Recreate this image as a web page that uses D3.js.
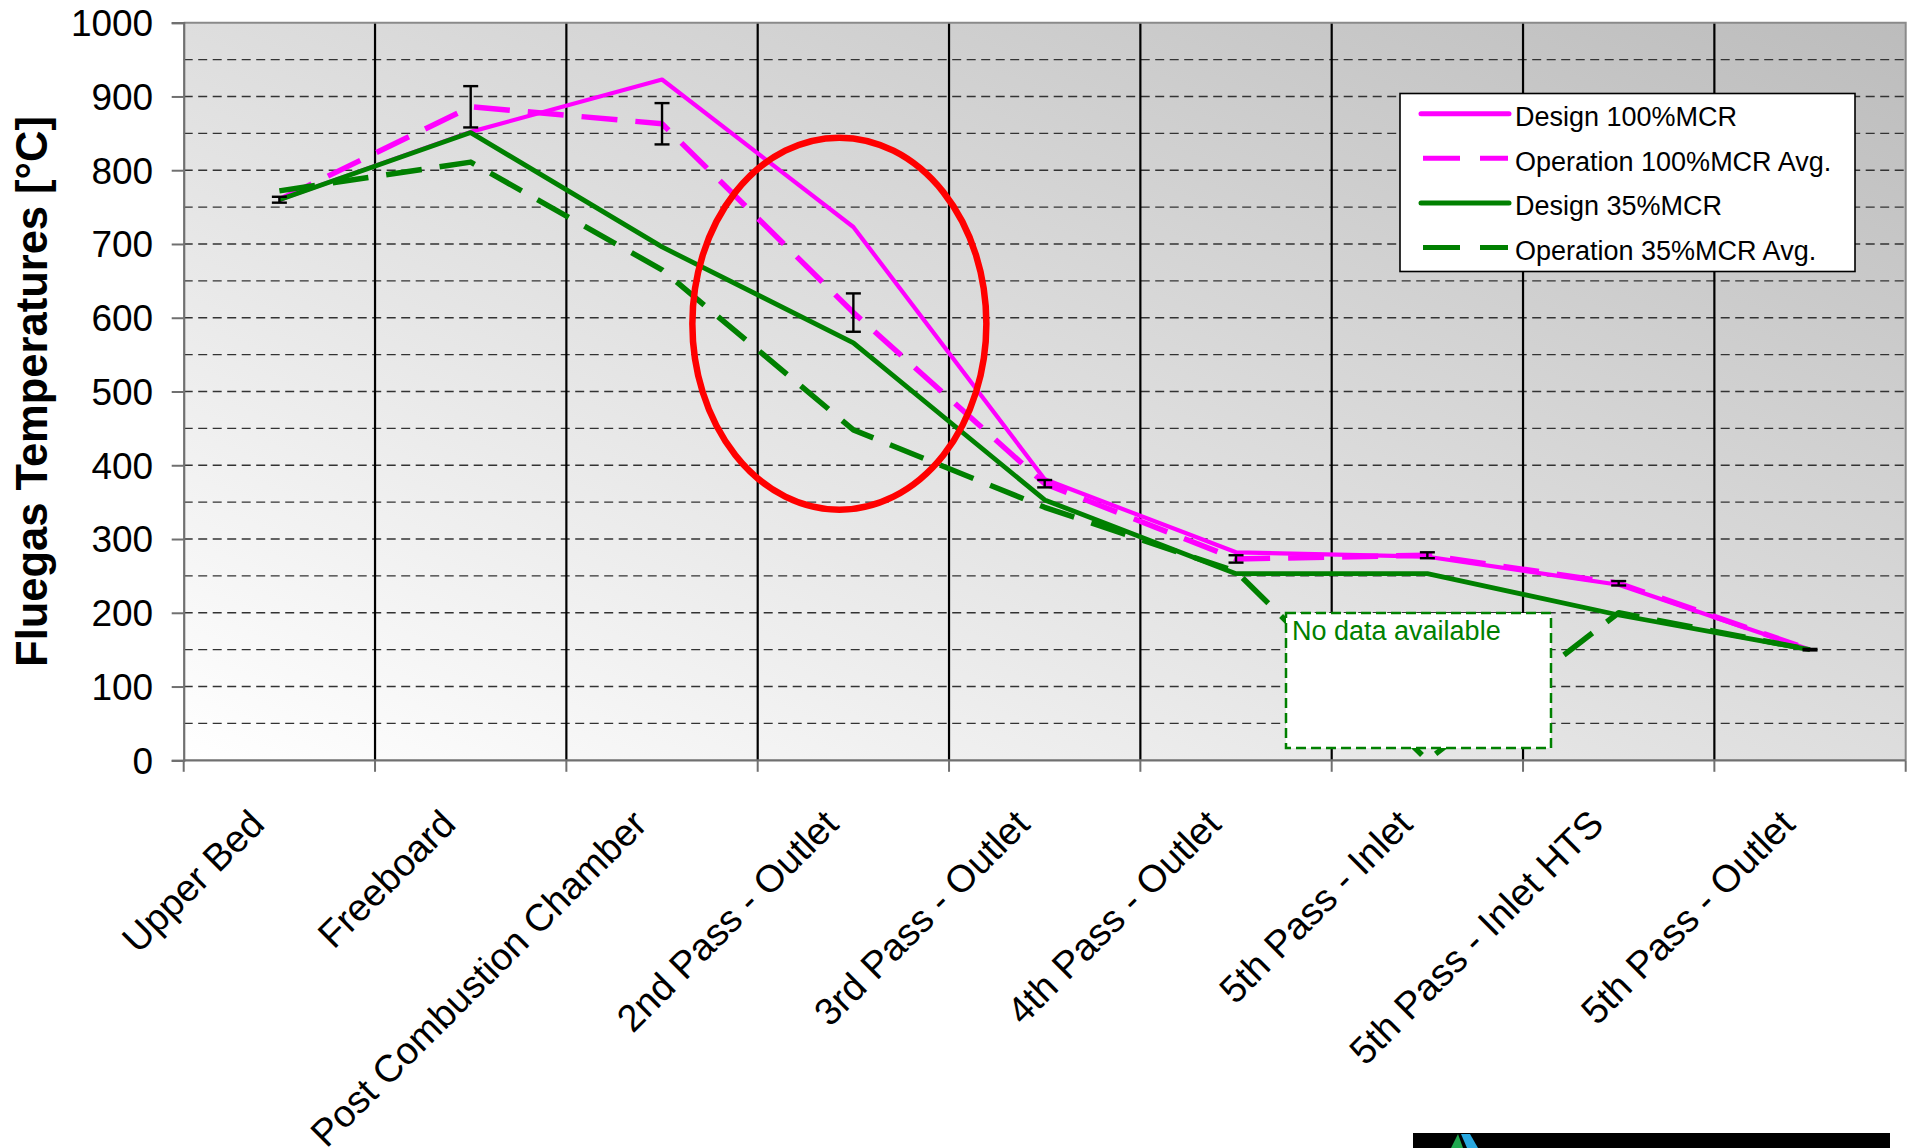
<!DOCTYPE html>
<html>
<head>
<meta charset="utf-8">
<script src="https://cdn.jsdelivr.net/npm/d3@7"></script>
<style>
  body { margin: 0; background: #fff; }
  svg { display: block; }
  text { font-family: "Liberation Sans", Arial, Helvetica, sans-serif; }
</style>
</head>
<body>
<svg id="chart" width="1909" height="1148"></svg>
<script>
// Flue gas temperature profile along the boiler path
const categories = [
  "Upper Bed", "Freeboard", "Post Combustion Chamber", "2nd Pass - Outlet",
  "3rd Pass - Outlet", "4th Pass - Outlet", "5th Pass - Inlet",
  "5th Pass - Inlet HTS", "5th Pass - Outlet"
];
const design100    = [760, 852, 923, 723, 381, 282, 276, 238, 150];
const operation100 = [760, 886, 863, 607, 375, 273, 278, 240, 150];
const operation100Err = [4, 28, 28, 26, 5, 5, 4, 3, 1];
const design35     = [760, 851, 696, 566, 353, 253, 253, 197, 150];
const operation35  = [772, 811, 665, 448, 343, 256, 0, 200, 150];
const seriesNames = ["Design 100%MCR", "Operation 100%MCR Avg.", "Design 35%MCR", "Operation 35%MCR Avg."];
const yTicks = [0, 100, 200, 300, 400, 500, 600, 700, 800, 900, 1000];
const yTitle = "Fluegas Temperatures [°C]";
const noDataText = "No data available";

const svg = d3.select("#chart");
const plot = { left: 183.7, top: 22.7, right: 1905.7, bottom: 760.3 };

const x = d3.scaleBand().domain(categories).range([plot.left, plot.right]);
const cx = c => x(c) + x.bandwidth() / 2;
const y = d3.scaleLinear().domain([0, 1000]).range([plot.bottom, plot.top]);

const MAGENTA = "#ff00ff", GREEN = "#008000";

// background gradient (light bottom-left to grey top-right)
const defs = svg.append("defs");
const grad = defs.append("linearGradient").attr("id", "plotBg")
  .attr("x1", 0).attr("y1", 1).attr("x2", 1).attr("y2", 0);
grad.append("stop").attr("offset", 0).attr("stop-color", "#ffffff");
grad.append("stop").attr("offset", 1).attr("stop-color", "#bcbcbc");

svg.append("rect")
  .attr("x", plot.left).attr("y", plot.top)
  .attr("width", plot.right - plot.left).attr("height", plot.bottom - plot.top)
  .attr("fill", "url(#plotBg)");

// dashed horizontal gridlines every 50
svg.append("g").selectAll("line")
  .data(d3.range(50, 1000, 50))
  .join("line")
  .attr("x1", plot.left).attr("x2", plot.right)
  .attr("y1", d => y(d)).attr("y2", d => y(d))
  .attr("stroke", "#333").attr("stroke-width", 1.4)
  .attr("stroke-dasharray", "9,5.5");

// solid vertical separators between categories
svg.append("g").selectAll("line")
  .data(categories.slice(1))
  .join("line")
  .attr("x1", d => x(d)).attr("x2", d => x(d))
  .attr("y1", plot.top).attr("y2", plot.bottom)
  .attr("stroke", "#000").attr("stroke-width", 2.2);

// plot frame: top and right edges
svg.append("path")
  .attr("d", `M${plot.left},${plot.top}H${plot.right}V${plot.bottom}`)
  .attr("fill", "none").attr("stroke", "#8a8a8a").attr("stroke-width", 2);

// series lines
const line = d3.line().x((d, i) => cx(categories[i])).y(d => y(d));
const series = [
  { values: design100, color: MAGENTA, width: 4.2, dash: null },
  { values: operation100, color: MAGENTA, width: 5.5, dash: "36,18" },
  { values: design35, color: GREEN, width: 4.8, dash: null },
  { values: operation35, color: GREEN, width: 5.5, dash: "36,18" }
];
svg.append("g").selectAll("path")
  .data(series)
  .join("path")
  .attr("d", d => line(d.values))
  .attr("fill", "none")
  .attr("stroke", d => d.color)
  .attr("stroke-width", d => d.width)
  .attr("stroke-linejoin", "round")
  .attr("stroke-dasharray", d => d.dash);

// error bars on the 100%MCR operating averages
const eb = svg.append("g").attr("stroke", "#000").attr("stroke-width", 2.4);
operation100.forEach((v, i) => {
  const px = cx(categories[i]);
  const e = operation100Err[i];
  eb.append("line").attr("x1", px).attr("x2", px).attr("y1", y(v - e)).attr("y2", y(v + e));
  eb.append("line").attr("x1", px - 7.5).attr("x2", px + 7.5).attr("y1", y(v - e)).attr("y2", y(v - e));
  eb.append("line").attr("x1", px - 7.5).attr("x2", px + 7.5).attr("y1", y(v + e)).attr("y2", y(v + e));
});

// "No data available" annotation box
const nd = svg.append("g");
nd.append("rect")
  .attr("x", 1286).attr("y", 613).attr("width", 265).attr("height", 135)
  .attr("fill", "#fff").attr("stroke", GREEN).attr("stroke-width", 2.5)
  .attr("stroke-dasharray", "10,5");
nd.append("text")
  .attr("x", 1292).attr("y", 640)
  .attr("font-size", 27).attr("fill", GREEN)
  .text(noDataText);

// red highlight ellipse around the 2nd pass outlet
svg.append("ellipse")
  .attr("cx", cx(categories[3]) - 14).attr("cy", y(592))
  .attr("rx", 147).attr("ry", 186)
  .attr("fill", "none").attr("stroke", "#ff0000").attr("stroke-width", 6.5);

// y axis
const yAxis = svg.append("g")
  .attr("transform", `translate(${plot.left},0)`)
  .call(d3.axisLeft(y).tickValues(yTicks).tickSize(12).tickPadding(18.5).tickFormat(d3.format("d")));
yAxis.select(".domain").attr("stroke", "#707070").attr("stroke-width", 2.2);
yAxis.selectAll(".tick line").attr("stroke", "#707070").attr("stroke-width", 2);
yAxis.selectAll(".tick text")
  .attr("font-size", 37).attr("fill", "#000")
  .attr("font-family", "'Liberation Sans', Arial, sans-serif")
  .attr("dy", "0.35em");

// x axis baseline, boundary ticks and rotated labels
svg.append("line")
  .attr("x1", plot.left).attr("x2", plot.right)
  .attr("y1", plot.bottom).attr("y2", plot.bottom)
  .attr("stroke", "#707070").attr("stroke-width", 2.2);
svg.append("g").selectAll("line")
  .data(categories.map(c => x(c)).concat([plot.right]))
  .join("line")
  .attr("x1", d => d).attr("x2", d => d)
  .attr("y1", plot.bottom).attr("y2", plot.bottom + 11.5)
  .attr("stroke", "#707070").attr("stroke-width", 2);
svg.append("g").selectAll("text")
  .data(categories)
  .join("text")
  .attr("transform", d => `translate(${cx(d) - 13},${plot.bottom + 66}) rotate(-45)`)
  .attr("text-anchor", "end")
  .attr("font-size", 38).attr("fill", "#000")
  .text(d => d);

// y axis title
svg.append("text")
  .attr("transform", `translate(47,${(plot.top + plot.bottom) / 2 + 0}) rotate(-90)`)
  .attr("text-anchor", "middle")
  .attr("font-size", 43.5).attr("font-weight", "bold").attr("fill", "#000")
  .text(yTitle);

// legend
const lg = svg.append("g");
lg.append("rect")
  .attr("x", 1400).attr("y", 93.5).attr("width", 455).attr("height", 178)
  .attr("fill", "#fff").attr("stroke", "#000").attr("stroke-width", 1.6);
series.forEach((s, i) => {
  const base = 126 + i * 44.6;
  lg.append("line")
    .attr("x1", s.dash ? 1423 : 1421).attr("x2", s.dash ? 1508 : 1509)
    .attr("y1", base - 12.3).attr("y2", base - 12.3)
    .attr("stroke", s.color).attr("stroke-width", 5)
    .attr("stroke-linecap", s.dash ? "butt" : "round")
    .attr("stroke-dasharray", s.dash ? "37,20" : null);
  lg.append("text")
    .attr("x", 1515).attr("y", base)
    .attr("font-size", 27).attr("fill", "#000")
    .text(seriesNames[i]);
});

// footer strip with logo mark
const ft = svg.append("g");
ft.append("rect").attr("x", 1413).attr("y", 1133).attr("width", 477).attr("height", 15).attr("fill", "#000");
ft.append("polygon").attr("points", "1451,1148 1458,1134 1463,1148").attr("fill", "#1fa84f");
ft.append("polygon").attr("points", "1461,1134 1470,1134 1478,1148 1467,1148").attr("fill", "#29a8e0");
</script>
</body>
</html>
